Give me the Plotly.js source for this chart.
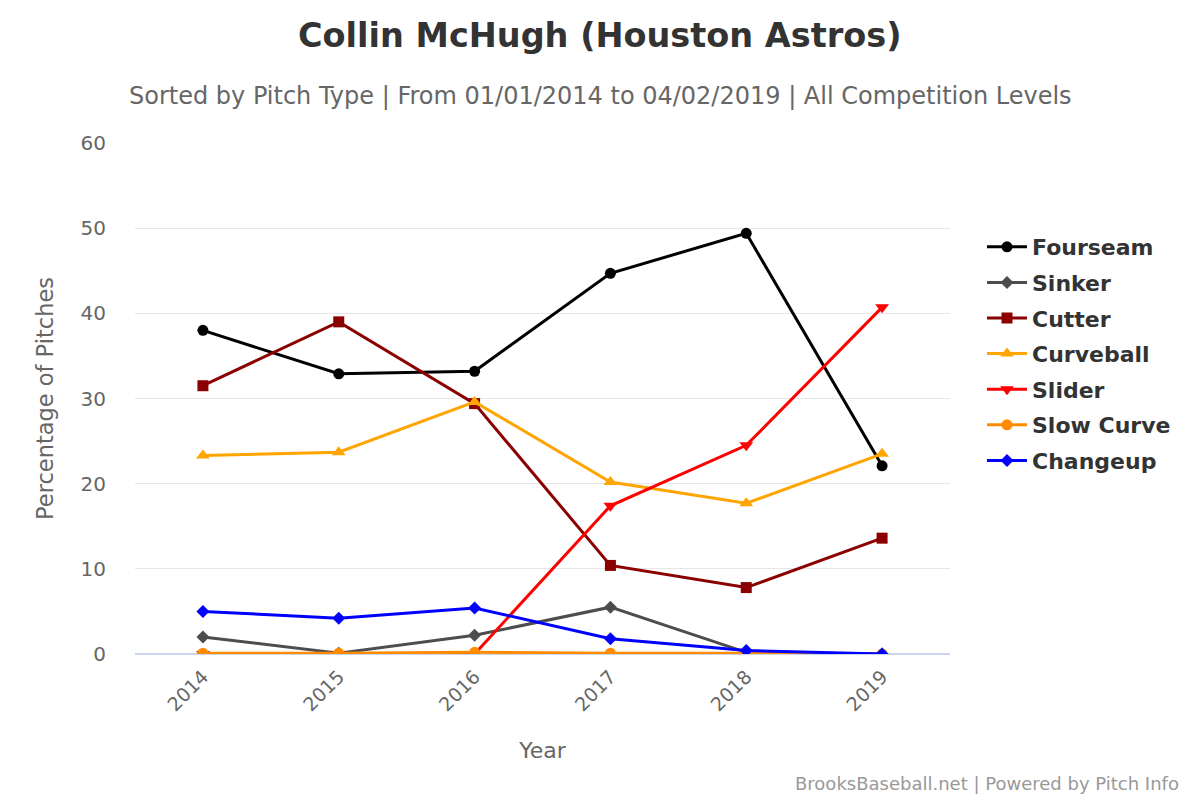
<!DOCTYPE html>
<html><head><meta charset="utf-8">
<script src="https://cdn.plot.ly/plotly-3.0.1.min.js"></script>
<style>body{margin:0;background:#fff}#chart{width:1200px;height:800px}</style>
</head><body><div id="chart"></div>
<script>
const years = ["2014","2015","2016","2017","2018","2019"];
const fourseam = [38.0, 32.9, 33.2, 44.7, 49.4, 22.1];
const sinker = [2.0, 0.1, 2.2, 5.5, 0.2, 0.0];
const cutter = [31.5, 39.0, 29.4, 10.4, 7.8, 13.6];
const curveball = [23.3, 23.7, 29.6, 20.2, 17.7, 23.5];
const slider = [0.0, 0.0, 0.0, 17.4, 24.5, 40.7];
const slowCurve = [0.1, 0.1, 0.2, 0.1, 0.1, 0.0];
const changeup = [5.0, 4.2, 5.4, 1.8, 0.4, 0.0];

const series = [
  {name:"Fourseam", y:fourseam, color:"#000000", symbol:"circle", size:11},
  {name:"Sinker", y:sinker, color:"#4d4d4d", symbol:"diamond", size:10},
  {name:"Cutter", y:cutter, color:"#8b0000", symbol:"square", size:11},
  {name:"Curveball", y:curveball, color:"#ffa500", symbol:"triangle-up", size:12},
  {name:"Slider", y:slider, color:"#ff0000", symbol:"triangle-down", size:12},
  {name:"Slow Curve", y:slowCurve, color:"#ff8c00", symbol:"circle", size:11},
  {name:"Changeup", y:changeup, color:"#0000ff", symbol:"diamond", size:10}
];
const traces = series.map(s => ({
  type:"scatter", mode:"lines+markers", name:s.name, x:years, y:s.y, legendgroup:s.name,
  line:{color:s.color, width:3}, marker:{color:s.color, symbol:s.symbol, size:s.size}
}));
const plotL=135, plotW=1200-135-250, plotT=143, plotH=800-143-146;
function px2paperX(px){return (px-plotL)/plotW;}
function px2paperY(py){return (plotT+plotH-py)/plotH;}
const layout = {
  width:1200, height:800, paper_bgcolor:"#fff", plot_bgcolor:"#fff",
  font:{family:"DejaVu Sans, Verdana, sans-serif", color:"#666"},
  margin:{l:135, r:250, t:143, b:146},
  showlegend:true,
  legend:{x:px2paperX(982), xanchor:"left", y:px2paperY(226), yanchor:"top",
          font:{size:22, color:"#333", weight:"bold"}, tracegroupgap:4, itemwidth:40},
  xaxis:{type:"category", range:[-0.5,5.5], tickangle:-45, tickfont:{size:19, color:"#666"}, ticklabelstandoff:7,
         title:{text:"Year", font:{size:22, color:"#666"}, standoff:28}, showgrid:false, zeroline:false, showline:false, ticks:""},
  yaxis:{range:[0,60], dtick:10, tickfont:{size:20, color:"#666"}, gridcolor:"#e6e6e6", gridwidth:1,
         zeroline:true, zerolinecolor:"#ccd6eb", zerolinewidth:2, ticks:"", ticklabelstandoff:28,
         title:{text:"Percentage of Pitches", font:{size:22.5, color:"#666"}, standoff:20}},
  annotations:[
    {text:"<b>Collin McHugh (Houston Astros)</b>", showarrow:false, font:{size:33.5, color:"#333"},
     xref:"paper", yref:"paper", x:px2paperX(600), y:px2paperY(36), xanchor:"center", yanchor:"middle"},
    {text:"Sorted by Pitch Type | From 01/01/2014 to 04/02/2019 | All Competition Levels", showarrow:false,
     font:{size:24, color:"#666"}, xref:"paper", yref:"paper", x:px2paperX(600), y:px2paperY(96), xanchor:"center", yanchor:"middle"},
    {text:"BrooksBaseball.net | Powered by Pitch Info", showarrow:false,
     font:{size:18, color:"#999"}, xref:"paper", yref:"paper", x:px2paperX(1181), y:px2paperY(784), xanchor:"right", yanchor:"middle"}
  ]
};
Plotly.newPlot("chart", traces, layout, {displayModeBar:false});
</script>
</body></html>
